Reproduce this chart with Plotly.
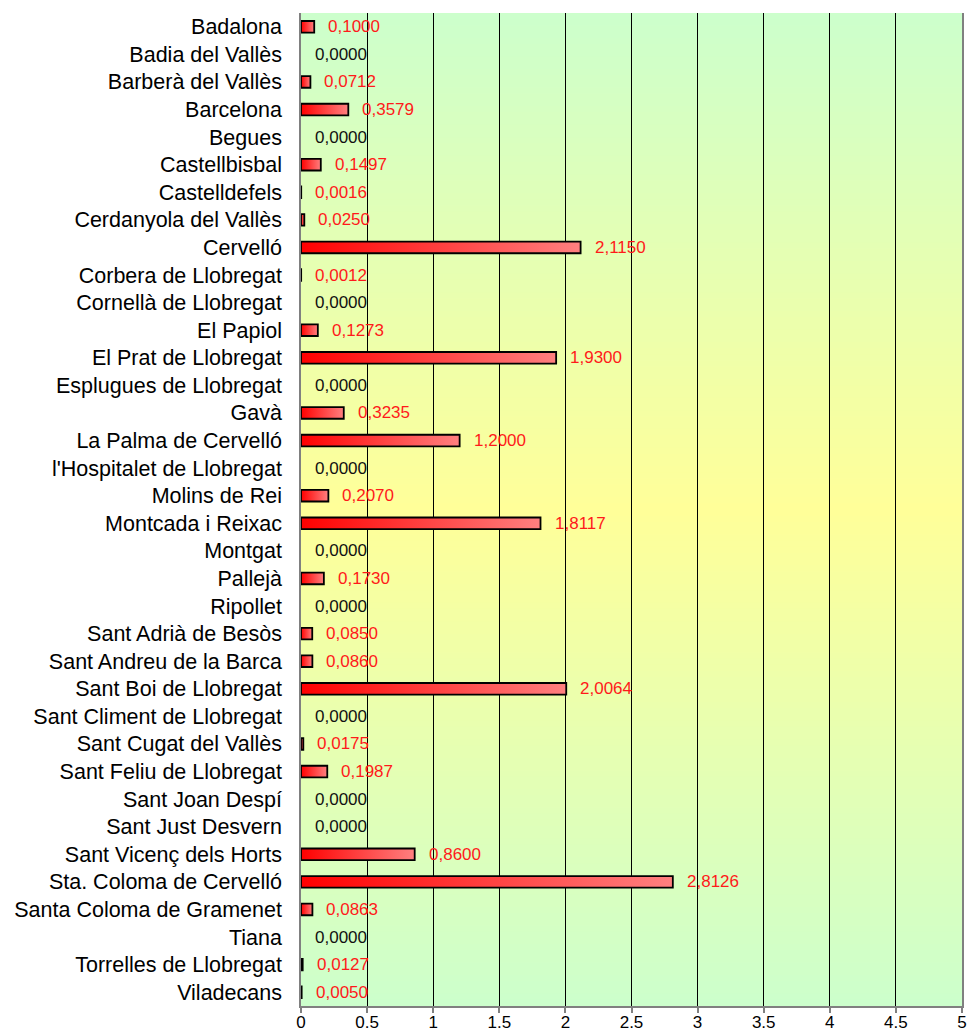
import plotly.graph_objects as go

municipalities = [
    "Badalona", "Badia del Vallès", "Barberà del Vallès", "Barcelona", "Begues",
    "Castellbisbal", "Castelldefels", "Cerdanyola del Vallès", "Cervelló",
    "Corbera de Llobregat", "Cornellà de Llobregat", "El Papiol",
    "El Prat de Llobregat", "Esplugues de Llobregat", "Gavà",
    "La Palma de Cervelló", "l'Hospitalet de Llobregat", "Molins de Rei",
    "Montcada i Reixac", "Montgat", "Pallejà", "Ripollet",
    "Sant Adrià de Besòs", "Sant Andreu de la Barca", "Sant Boi de Llobregat",
    "Sant Climent de Llobregat", "Sant Cugat del Vallès",
    "Sant Feliu de Llobregat", "Sant Joan Despí", "Sant Just Desvern",
    "Sant Vicenç dels Horts", "Sta. Coloma de Cervelló",
    "Santa Coloma de Gramenet", "Tiana", "Torrelles de Llobregat", "Viladecans",
]
values = [
    0.1000, 0.0000, 0.0712, 0.3579, 0.0000,
    0.1497, 0.0016, 0.0250, 2.1150,
    0.0012, 0.0000, 0.1273,
    1.9300, 0.0000, 0.3235,
    1.2000, 0.0000, 0.2070,
    1.8117, 0.0000, 0.1730, 0.0000,
    0.0850, 0.0860, 2.0064,
    0.0000, 0.0175,
    0.1987, 0.0000, 0.0000,
    0.8600, 2.8126,
    0.0863, 0.0000, 0.0127, 0.0050,
]
x_ticks = [0, 0.5, 1, 1.5, 2, 2.5, 3, 3.5, 4, 4.5, 5]
x_ticktext = ["0", "0.5", "1", "1.5", "2", "2.5", "3", "3.5", "4", "4.5", "5"]

FONT = "Liberation Sans, Arial, sans-serif"
HALF = 0.21  # half bar thickness in category units

fig = go.Figure()

# bars: one filled polygon per municipality, with horizontal gradient
for i, v in enumerate(values):
    if v <= 0:
        continue
    fig.add_trace(go.Scatter(
        x=[0, v, v, 0, 0],
        y=[i - HALF, i - HALF, i + HALF, i + HALF, i - HALF],
        mode="lines",
        fill="toself",
        fillgradient=dict(type="horizontal",
                          colorscale=[[0, "#ff0000"], [1, "#ff8080"]]),
        line=dict(color="#000000", width=1.8),
        hoverinfo="skip",
        showlegend=False,
    ))

# value labels
annotations = []
for i, v in enumerate(values):
    annotations.append(dict(
        x=v, y=i, xref="x", yref="y",
        text=f"{v:.4f}".replace(".", ","),
        showarrow=False, xanchor="left", yanchor="middle", xshift=12,
        font=dict(family=FONT, size=17, color="#ff1a1a" if v > 0 else "#111111"),
    ))

# vertical green-yellow-green background gradient (strips)
shapes = []
N = 160
c_edge = (204, 255, 204)
c_mid = (255, 255, 153)
for k in range(N):
    y0 = k / N
    y1 = (k + 1) / N
    mid = (y0 + y1) / 2
    t = 1 - abs(mid - 0.5) * 2
    col = tuple(round(c_edge[j] + (c_mid[j] - c_edge[j]) * t) for j in range(3))
    shapes.append(dict(
        type="rect", xref="x domain", yref="y domain",
        x0=0, x1=1, y0=y0, y1=min(1, y1 + 0.002),
        fillcolor=f"rgb{col}", line=dict(width=0), layer="below",
    ))

fig.update_layout(
    width=968, height=1032,
    autosize=False,
    margin=dict(l=301, r=6, t=13, b=26),
    paper_bgcolor="#ffffff",
    plot_bgcolor="rgba(0,0,0,0)",
    showlegend=False,
    hovermode=False,
    annotations=annotations,
    shapes=shapes,
    font=dict(family=FONT, color="#000000"),
)
fig.update_xaxes(
    range=[0, 5], tickvals=x_ticks, ticktext=x_ticktext,
    automargin=False,
    showgrid=True, gridcolor="#000000", gridwidth=1,
    zeroline=False, showline=True, linecolor="#808080", linewidth=1.5,
    ticks="outside", ticklen=5, tickcolor="#808080", tickwidth=1.5,
    tickfont=dict(family=FONT, size=17, color="#000000"),
    ticklabelstandoff=-5,
    fixedrange=True,
)
fig.update_yaxes(
    range=[len(municipalities) - 0.5, -0.5],
    tickvals=list(range(len(municipalities))), ticktext=municipalities,
    automargin=False,
    showgrid=False, zeroline=False,
    showline=True, mirror=True, linecolor="#808080", linewidth=1.5,
    ticks="", ticklabelstandoff=13,
    tickfont=dict(family=FONT, size=21.5, color="#000000"),
    fixedrange=True,
)

fig.write_html(
    "out.html",
    config={"responsive": False, "displayModeBar": False},
    post_script="document.body.style.margin='0';document.body.style.overflow='hidden';",
)
